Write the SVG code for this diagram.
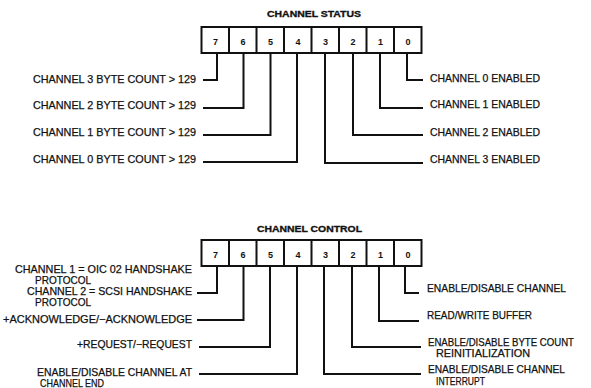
<svg xmlns="http://www.w3.org/2000/svg" width="591" height="388" viewBox="0 0 591 388">
<style>
.t{font-family:"Liberation Sans",Arial,sans-serif;font-size:10.5px;fill:#111;stroke:#111;stroke-width:0.25}
.h{font-family:"Liberation Sans",Arial,sans-serif;font-size:8.5px;font-weight:bold;fill:#111;stroke:#111;stroke-width:0.3}
.d{font-family:"Liberation Sans",Arial,sans-serif;font-size:9px;font-weight:bold;fill:#111;text-anchor:middle}
.box{fill:#fff;stroke:#111;stroke-width:2}
.c{fill:none;stroke:#111;stroke-width:2}
</style>
<rect width="591" height="388" fill="#fff"/>

<g id="status-register">
<text class="h" x="267" y="17" textLength="94" lengthAdjust="spacingAndGlyphs">CHANNEL STATUS</text>
<rect class="box" x="201.5" y="27" width="220" height="26"/>
<path class="c" d="M229 27V53M256.5 27V53M284 27V53M311.5 27V53M339 27V53M366.5 27V53M394 27V53"/>
<text class="d" x="215.5" y="45">7</text>
<text class="d" x="243" y="45">6</text>
<text class="d" x="270.5" y="45">5</text>
<text class="d" x="298" y="45">4</text>
<text class="d" x="325.5" y="45">3</text>
<text class="d" x="353" y="45">2</text>
<text class="d" x="380.5" y="45">1</text>
<text class="d" x="408" y="45">0</text>
</g>

<g id="status-left-labels">
<text class="t" x="33" y="83" textLength="163" lengthAdjust="spacingAndGlyphs">CHANNEL 3 BYTE COUNT &gt; 129</text>
<text class="t" x="33" y="109" textLength="163" lengthAdjust="spacingAndGlyphs">CHANNEL 2 BYTE COUNT &gt; 129</text>
<text class="t" x="33" y="136" textLength="163" lengthAdjust="spacingAndGlyphs">CHANNEL 1 BYTE COUNT &gt; 129</text>
<text class="t" x="33" y="163" textLength="163" lengthAdjust="spacingAndGlyphs">CHANNEL 0 BYTE COUNT &gt; 129</text>
</g>

<g id="status-right-labels">
<text class="t" x="430" y="82" textLength="110" lengthAdjust="spacingAndGlyphs">CHANNEL 0 ENABLED</text>
<text class="t" x="430" y="108" textLength="110" lengthAdjust="spacingAndGlyphs">CHANNEL 1 ENABLED</text>
<text class="t" x="430" y="136" textLength="110" lengthAdjust="spacingAndGlyphs">CHANNEL 2 ENABLED</text>
<text class="t" x="430" y="163" textLength="110" lengthAdjust="spacingAndGlyphs">CHANNEL 3 ENABLED</text>
</g>

<g id="status-connectors">
<path class="c" d="M217 53V80H203"/>
<path class="c" d="M243.5 53V108H203"/>
<path class="c" d="M270.5 53V135H203"/>
<path class="c" d="M297 53V162H203"/>
<path class="c" d="M325 53V163H423"/>
<path class="c" d="M353 53V135H423"/>
<path class="c" d="M380 53V108H423"/>
<path class="c" d="M407 53V80H423"/>
</g>

<g id="control-register">
<text class="h" x="257" y="232" textLength="105" lengthAdjust="spacingAndGlyphs">CHANNEL CONTROL</text>
<rect class="box" x="201.5" y="240" width="220" height="26"/>
<path class="c" d="M229 240V266M256.5 240V266M284 240V266M311.5 240V266M339 240V266M366.5 240V266M394 240V266"/>
<text class="d" x="215.5" y="258">7</text>
<text class="d" x="243" y="258">6</text>
<text class="d" x="270.5" y="258">5</text>
<text class="d" x="298" y="258">4</text>
<text class="d" x="325.5" y="258">3</text>
<text class="d" x="353" y="258">2</text>
<text class="d" x="380.5" y="258">1</text>
<text class="d" x="408" y="258">0</text>
</g>

<g id="control-left-labels">
<text class="t" x="15" y="273" textLength="177" lengthAdjust="spacingAndGlyphs">CHANNEL 1 = OIC 02 HANDSHAKE</text>
<text class="t" x="35" y="284" textLength="56" lengthAdjust="spacingAndGlyphs">PROTOCOL</text>
<text class="t" x="27" y="295" textLength="165" lengthAdjust="spacingAndGlyphs">CHANNEL 2 = SCSI HANDSHAKE</text>
<text class="t" x="35" y="306" textLength="56" lengthAdjust="spacingAndGlyphs">PROTOCOL</text>
<text class="t" x="3" y="323" textLength="189" lengthAdjust="spacingAndGlyphs">+ACKNOWLEDGE/−ACKNOWLEDGE</text>
<text class="t" x="77" y="348" textLength="115" lengthAdjust="spacingAndGlyphs">+REQUEST/−REQUEST</text>
<text class="t" x="37" y="376" textLength="155" lengthAdjust="spacingAndGlyphs">ENABLE/DISABLE CHANNEL AT</text>
<text class="t" x="40" y="387" textLength="64" lengthAdjust="spacingAndGlyphs">CHANNEL END</text>
</g>

<g id="control-right-labels">
<text class="t" x="427" y="292" textLength="139" lengthAdjust="spacingAndGlyphs">ENABLE/DISABLE CHANNEL</text>
<text class="t" x="427" y="319" textLength="105" lengthAdjust="spacingAndGlyphs">READ/WRITE BUFFER</text>
<text class="t" x="428" y="346" textLength="146" lengthAdjust="spacingAndGlyphs">ENABLE/DISABLE BYTE COUNT</text>
<text class="t" x="436" y="357" textLength="94" lengthAdjust="spacingAndGlyphs">REINITIALIZATION</text>
<text class="t" x="428" y="373" textLength="137" lengthAdjust="spacingAndGlyphs">ENABLE/DISABLE CHANNEL</text>
<text class="t" x="436" y="385" textLength="49" lengthAdjust="spacingAndGlyphs">INTERRUPT</text>
</g>

<g id="control-connectors">
<path class="c" d="M217 266V293H197"/>
<path class="c" d="M243.5 266V320H197"/>
<path class="c" d="M270 266V347H199"/>
<path class="c" d="M297 266V374H199"/>
<path class="c" d="M324 266V374H421"/>
<path class="c" d="M352 266V347H421"/>
<path class="c" d="M379 266V321H419"/>
<path class="c" d="M405 266V293H419"/>
</g>
</svg>
